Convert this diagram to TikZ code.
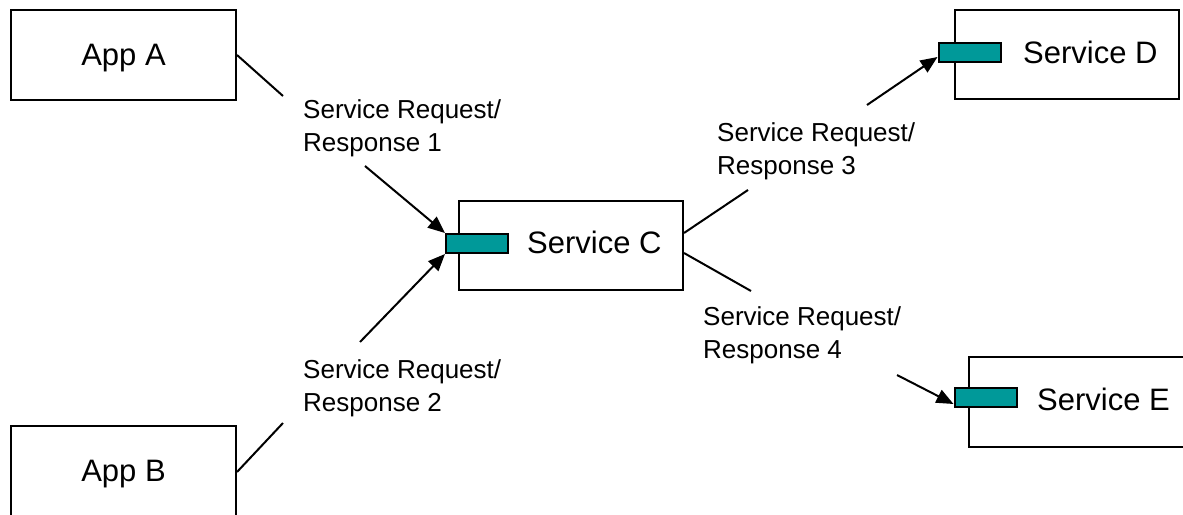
\documentclass[tikz,border=0pt]{standalone}
\usepackage{fontspec}
\setmainfont{Liberation Sans}
\usetikzlibrary{arrows.meta,calc}
\definecolor{portteal}{RGB}{0,153,153}
\tikzset{
  box/.style={draw=black, line width=2pt, fill=white, inner sep=0pt, minimum width=224pt, minimum height=89pt},
  port/.style={draw=black, line width=2pt, fill=portteal, inner sep=0pt, minimum width=62pt, minimum height=19pt},
  boxtext/.style={inner sep=0pt, font=\fontsize{31}{37}\selectfont},
  lbl/.style={inner sep=0pt, align=left, anchor=base west, font=\fontsize{26}{33}\selectfont},
  conn/.style={draw=black, line width=2pt},
  arr/.style={conn, -{Triangle[length=17pt,width=14pt]}}
}
\begin{document}
\begin{tikzpicture}[x=1pt,y=-1pt]
\useasboundingbox (0,0) rectangle (1183,514);
\clip (0,0) rectangle (1183,514);
% boxes
\node[box, minimum width=225pt, minimum height=90pt] (A) at (123.5,55) {};
\node[boxtext, anchor=base] (At) at (123.5,65) {App A};
\node[box, minimum width=225pt, minimum height=90pt] (B) at (123.5,471) {};
\node[boxtext, anchor=base] (Bt) at (123.5,481) {App B};
\node[box] (C) at (571,245.5) {};
\node[boxtext, anchor=base west] (Ct) at (527,253) {Service C};
\node[box] (D) at (1067,54.5) {};
\node[boxtext, anchor=base west] (Dt) at (1023,63) {Service D};
\node[box, minimum height=90pt] (E) at (1081,402) {};
\node[boxtext, anchor=base west] (Et) at (1037,410) {Service E};
% ports
\node[port] (PC) at (477,243.5) {};
\node[port] (PD) at (969.5,52.5) {};
\node[port] (PE) at (985.5,397.5) {};
% labels (anchored at the baseline of the second line)
\node[lbl] (L1) at (303,151) {Service Request/\\Response 1};
\node[lbl] (L2) at (303,411) {Service Request/\\Response 2};
\node[lbl] (L3) at (717,174) {Service Request/\\Response 3};
\node[lbl] (L4) at (703,358) {Service Request/\\Response 4};
% break points of the connectors
\coordinate (a1) at (283,96);
\coordinate (b1) at (365,166);
\coordinate (a2) at (283,423);
\coordinate (b2) at (360,342);
\coordinate (a3) at (748,190);
\coordinate (b3) at (867,105);
\coordinate (a4) at (751,291);
\coordinate (b4) at (897,375);
% connectors
\draw[conn] (A.east) -- (a1);
\draw[arr] (b1) -- (PC.north west);
\draw[conn] ($(B.east)+(0,1)$) -- (a2);
\draw[arr] (b2) -- (PC.south west);
\draw[conn] ($(C.east)+(0,-12.5)$) -- (a3);
\draw[arr] (b3) -- ($(PD.west)+(0,4.5)$);
\draw[conn] ($(C.east)+(0,7.5)$) -- (a4);
\draw[arr] (b4) -- ($(PE.west)+(0,6.5)$);
\end{tikzpicture}
\end{document}
